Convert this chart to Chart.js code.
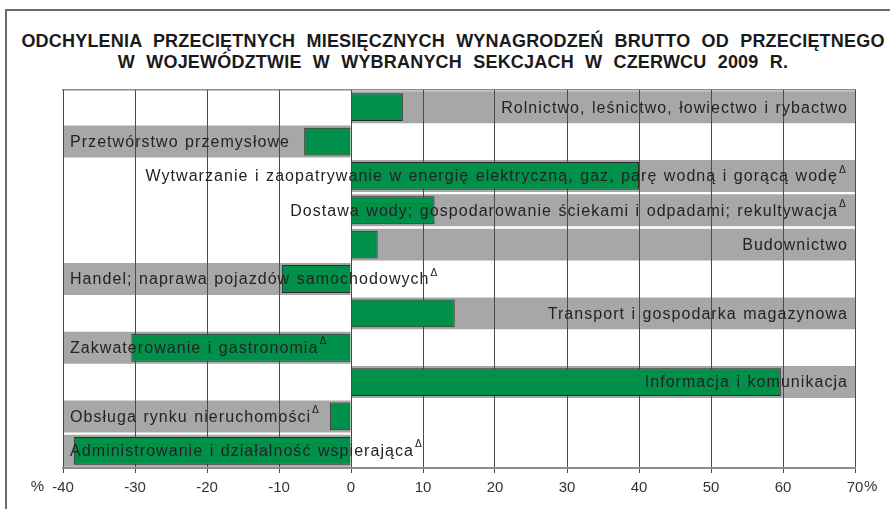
<!DOCTYPE html>
<html>
<head>
<meta charset="utf-8">
<script src="https://cdn.jsdelivr.net/npm/chart.js"></script>
<style>
    html, body { margin: 0; padding: 0; background: #fff; }
    #frame {
        position: absolute; left: 5px; top: 9px; width: 885px; height: 500px;
        border-top: 2px solid #6a6a6a; border-left: 2px solid #6a6a6a;
    }
    #title {
        position: absolute; left: 8px; top: 31px; width: 890px;
        font: bold 18px "Liberation Sans", Arial, sans-serif;
        letter-spacing: 0.2px; word-spacing: 6px; line-height: 20.5px;
        text-align: center; color: #1a1a1a;
    }
    #wrap { position: absolute; left: 0; top: 0; width: 890px; height: 509px; }
</style>
</head>
<body>
<div id="frame"></div>
<div id="title">ODCHYLENIA PRZECIĘTNYCH MIESIĘCZNYCH WYNAGRODZEŃ BRUTTO OD PRZECIĘTNEGO<br>W WOJEWÓDZTWIE W WYBRANYCH SEKCJACH W CZERWCU 2009 R.</div>
<div id="wrap"><canvas id="chart"></canvas></div>
<script>
/* global Chart */

var categories = [
    'Rolnictwo, leśnictwo, łowiectwo i rybactwo',
    'Przetwórstwo przemysłowe',
    'Wytwarzanie i zaopatrywanie w energię elektryczną, gaz, parę wodną i gorącą wodę',
    'Dostawa wody; gospodarowanie ściekami i odpadami; rekultywacja',
    'Budownictwo',
    'Handel; naprawa pojazdów samochodowych',
    'Transport i gospodarka magazynowa',
    'Zakwaterowanie i gastronomia',
    'Informacja i komunikacja',
    'Obsługa rynku nieruchomości',
    'Administrowanie i działalność wspierająca'
];

// odchylenie od przeciętnego wynagrodzenia w województwie, %
var deviations = [7.2, -6.5, 40.0, 11.6, 3.7, -9.6, 14.4, -30.5, 59.7, -2.9, -38.5];

// sekcje oznaczone trójkątem
var marked = [false, false, true, true, false, true, false, true, false, true, true];

var axisMin = -40;
var axisMax = 70;
var axisStep = 10;

// szare pasy pod nazwami: po stronie słupka, do krawędzi osi
var bands = deviations.map(function (v) { return v >= 0 ? axisMax : axisMin; });

var GREEN = '#00904a';
var BAND = '#a7a7a7';
var TEXT = '#232323';
var LABEL_FONT = '16px "Liberation Sans", Arial, sans-serif';

// siatka ma byc nad szarymi pasami, ale pod zielonymi slupkami
var gridOverBands = {
    id: 'gridOverBands',
    afterDatasetDraw: function (chart, args) {
        if (args.index === 1) {
            chart.scales.x.drawGrid(chart.chartArea);
        }
    }
};

var sectionLabels = {
    id: 'sectionLabels',
    afterDatasetsDraw: function (chart) {
        var ctx = chart.ctx;
        var area = chart.chartArea;
        var yScale = chart.scales.y;
        ctx.save();
        ctx.fillStyle = TEXT;
        ctx.textBaseline = 'middle';
        categories.forEach(function (name, i) {
            var y = yScale.getPixelForValue(i) + 1;
            ctx.font = LABEL_FONT;
            ctx.letterSpacing = '1.05px';
            ctx.wordSpacing = '1px';
            var w = ctx.measureText(name).width;
            var markW = marked[i] ? 10 : 0;
            var x = deviations[i] >= 0 ? area.right - 7 - w - markW : area.left + 7;
            ctx.textAlign = 'left';
            ctx.fillText(name, x, y);
            if (marked[i]) {
                ctx.font = '10px "DejaVu Sans", sans-serif';
                ctx.letterSpacing = '0px';
                ctx.wordSpacing = '0px';
                ctx.fillText('\u0394', x + w + 1, y - 7);
            }
        });
        ctx.restore();
    }
};

var percentSigns = {
    id: 'percentSigns',
    afterDraw: function (chart) {
        var ctx = chart.ctx;
        var xs = chart.scales.x;
        var y = 487;
        ctx.save();
        ctx.font = '15px "Liberation Sans", Arial, sans-serif';
        ctx.fillStyle = '#333';
        ctx.textBaseline = 'middle';
        ctx.textAlign = 'right';
        ctx.fillText('%', xs.getPixelForValue(axisMin) - 19, y);
        ctx.textAlign = 'left';
        ctx.fillText('%', xs.getPixelForValue(axisMax) + 9, y);
        ctx.restore();
    }
};

new Chart(document.getElementById('chart'), {
    type: 'bar',
    data: {
        labels: categories,
        datasets: [{
            label: 'Odchylenie',
            data: deviations,
            backgroundColor: GREEN,
            borderColor: '#2b2b2b',
            borderWidth: 1,
            barPercentage: 0.81,
            categoryPercentage: 1,
            grouped: false,
            order: 1
        }, {
            label: 'tlo',
            data: bands,
            backgroundColor: BAND,
            borderWidth: 0,
            barPercentage: 0.93,
            categoryPercentage: 1,
            grouped: false,
            order: 2
        }]
    },
    options: {
        indexAxis: 'y',
        responsive: true,
        maintainAspectRatio: false,
        animation: false,
        layout: { padding: { left: 63, right: 35, top: 90, bottom: 6 } },
        plugins: {
            legend: { display: false },
            title: { display: false },
            tooltip: { enabled: false }
        },
        scales: {
            x: {
                min: axisMin,
                max: axisMax,
                grid: { color: '#4a4a4a', lineWidth: 1, tickLength: 5 },
                border: { color: '#8c8c8c', width: 2 },
                ticks: {
                    stepSize: axisStep,
                    padding: 6,
                    color: '#333',
                    font: { family: '"Liberation Sans", Arial, sans-serif', size: 15 }
                }
            },
            x2: {
                position: 'top',
                min: axisMin,
                max: axisMax,
                grid: { display: false, drawTicks: false },
                border: { color: '#8c8c8c', width: 1.5 },
                ticks: { display: false }
            },
            y: {
                display: false,
                grid: { display: false }
            }
        }
    },
    plugins: [gridOverBands, sectionLabels, percentSigns]
});
</script>
</body>
</html>
